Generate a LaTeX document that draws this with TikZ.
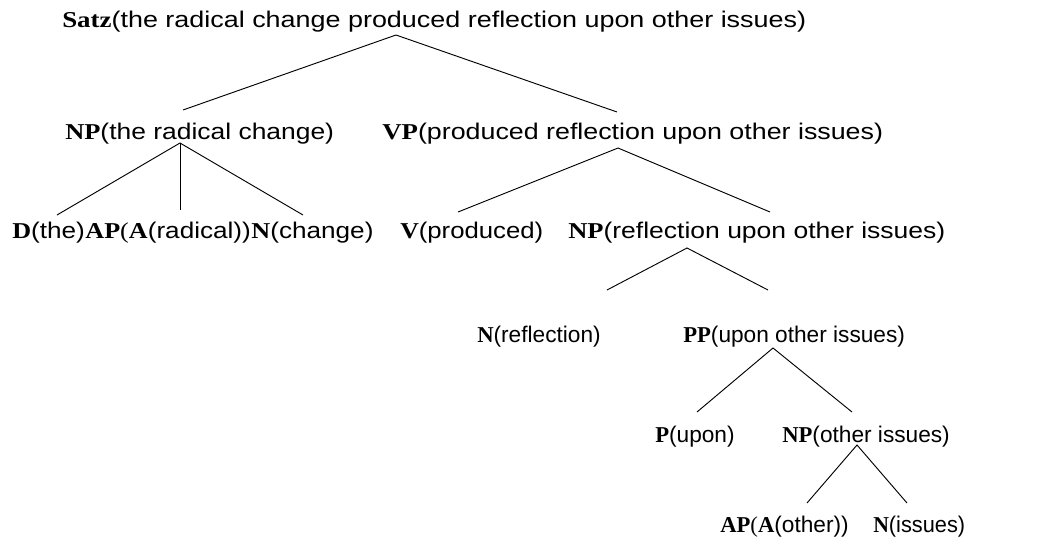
\documentclass[tikz,border=0pt]{standalone}
\usepackage{graphicx}
\usepackage{fontspec}
\setmainfont{Liberation Sans}
\newfontfamily\catfont{Liberation Serif}
\newcommand\cat[1]{{\catfont\bfseries #1}}
\newcommand\sparen{{\catfont(}}
\newcommand\sx[2]{\scalebox{#1}[1]{#2}}
\begin{document}
\begin{tikzpicture}[x=0.75pt,y=-0.75pt,
  lbl/.style={anchor=base west, inner sep=0pt, font=\fontsize{17}{20}\selectfont},
  edge/.style={line width=0.7pt, black}]
\useasboundingbox (0,0) rectangle (1059,542);
% labels
\node[lbl] (satz) at (62,28) {\sx{1.188}{\cat{Satz}(the radical change produced reflection upon other issues)}};
\node[lbl] (np1) at (65,139) {\sx{1.166}{\cat{NP}(the radical change)}};
\node[lbl] (vp) at (382,139) {\sx{1.183}{\cat{VP}(produced reflection upon other issues)}};
\node[lbl] (d) at (12,238) {\sx{1.153}{\cat{D}(the)}};
\node[lbl] (ap1) at (d.base east) {\sx{1.153}{\cat{AP}\sparen\cat{A}(radical))}};
\node[lbl] (n1) at (ap1.base east) {\sx{1.153}{\cat{N}(change)}};
\node[lbl] (v) at (400,238) {\sx{1.135}{\cat{V}(produced)}};
\node[lbl] (np2) at (568,238) {\sx{1.169}{\cat{NP}(reflection upon other issues)}};
\node[lbl] (n2) at (477,342) {\cat{N}(reflection)};
\node[lbl] (pp) at (683,342) {\cat{PP}(upon other issues)};
\node[lbl] (p) at (655,442) {\cat{P}(upon)};
\node[lbl] (np3) at (782,442) {\cat{NP}(other issues)};
\node[lbl] (ap2) at (720,532) {\cat{AP}\sparen\cat{A}(other))};
\node[lbl] (n3) at (873,532) {\sx{0.96}{\cat{N}(issues)}};
% attachment points
\coordinate (satz-b) at (396,35);
\coordinate (np1-t) at (183,110);
\coordinate (vp-t) at (617,112);
\coordinate (np1-b) at (180,143);
\coordinate (d-t) at (57,215);
\coordinate (ap1-t) at (180,210);
\coordinate (n1-t) at (303,215);
\coordinate (vp-b) at (618,148);
\coordinate (v-t) at (458,212);
\coordinate (np2-t) at (770,212);
\coordinate (np2-b) at (687,248);
\coordinate (n2-t) at (607,290);
\coordinate (pp-t) at (768,290);
\coordinate (pp-b) at (773,348);
\coordinate (p-t) at (697,412);
\coordinate (np3-t) at (852,412);
\coordinate (np3-b) at (857,445);
\coordinate (ap2-t) at (807,503);
\coordinate (n3-t) at (907,503);
% connectors
\draw[edge] (np1-t) -- (satz-b) -- (vp-t);
\draw[edge] (d-t) -- (np1-b) -- (n1-t);
\draw[edge] (np1-b) -- (ap1-t);
\draw[edge] (v-t) -- (vp-b) -- (np2-t);
\draw[edge] (n2-t) -- (np2-b) -- (pp-t);
\draw[edge] (p-t) -- (pp-b) -- (np3-t);
\draw[edge] (ap2-t) -- (np3-b) -- (n3-t);
\end{tikzpicture}
\end{document}
